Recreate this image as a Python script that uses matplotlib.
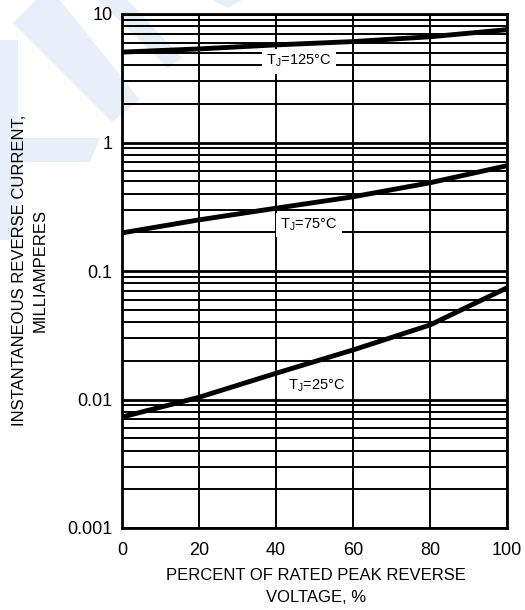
import matplotlib
matplotlib.use("Agg")
import matplotlib.pyplot as plt
from matplotlib.patches import Polygon

plt.rcParams['font.family'] = ['Liberation Sans', 'DejaVu Sans']
plt.rcParams['mathtext.default'] = 'regular'

# percent of rated peak reverse voltage
voltage_pct = [0, 20, 40, 60, 80, 100]
# reverse current, mA
current_125 = [5.05, 5.35, 5.75, 6.1, 6.65, 7.55]
current_75 = [0.198, 0.25, 0.308, 0.378, 0.486, 0.66]
current_25 = [0.0073, 0.0104, 0.0160, 0.0243, 0.038, 0.074]

curve_labels = ['$T_J$=125°C', '$T_J$=75°C', '$T_J$=25°C']
label_x = [46, 48.5, 50.5]
label_y = [4.3, 0.228, 0.0127]

x_ticks = [0, 20, 40, 60, 80, 100]
y_ticks = [0.001, 0.01, 0.1, 1, 10]
y_ticklabels = ['0.001', '0.01', '0.1', '1', '10']

fig = plt.figure(figsize=(5.25, 6.1), dpi=100)

# faint blue watermark behind everything (pixel coords, top-left origin)
wm_color = '#e9eff9'
W, H = 525, 610
wm_shapes = [
    [(13, 23), (36, 0), (60, 0), (140, 100), (112, 122)],
    [(98, 0), (128, 0), (182, 58), (168, 68)],
    [(0, 40), (18, 40), (18, 240), (0, 240)],
    [(0, 138), (100, 138), (90, 162), (0, 162)],
    [(212, 0), (242, 0), (228, 8)],
]
for shape in wm_shapes:
    pts = [(px / W, 1 - py / H) for px, py in shape]
    fig.patches.append(Polygon(pts, closed=True, transform=fig.transFigure,
                               facecolor=wm_color, edgecolor='none', zorder=-5))

ax = fig.add_axes([122 / W, 1 - 528 / H, 385 / W, 514 / H])
ax.set_zorder(2)
ax.patch.set_alpha(0)
ax.set_yscale('log')
ax.set_xlim(0, 100)
ax.set_ylim(0.001, 10)

# grid drawn by hand: decade lines, minor lines, vertical lines
for d in [0.001, 0.01, 0.1, 1, 10]:
    ax.axhline(d, color='black', lw=2.0, zorder=1)
for d in [0.001, 0.01, 0.1, 1]:
    for m in range(2, 10):
        ax.axhline(d * m, color='black', lw=1.4, zorder=1)
for xv in x_ticks:
    ax.axvline(xv, color='black', lw=1.4, zorder=1)

for cur in [current_125, current_75, current_25]:
    ax.plot(voltage_pct, cur, color='black', lw=3.5, solid_capstyle='butt', zorder=3)

for txt, lx, ly in zip(curve_labels, label_x, label_y):
    ax.text(lx, ly, txt, fontsize=10.5, ha='center', va='center', zorder=4,
            bbox=dict(facecolor='white', edgecolor='none', pad=3))

for s in ax.spines.values():
    s.set_linewidth(2)
ax.set_xticks(x_ticks)
ax.set_xticklabels([str(v) for v in x_ticks], fontsize=13)
ax.set_yticks(y_ticks)
ax.set_yticklabels(y_ticklabels, fontsize=13)
ax.minorticks_off()
ax.tick_params(axis='x', length=0, pad=10)
ax.tick_params(axis='y', length=0, pad=7)

fig.text(316 / W, 1 - 575 / H, 'PERCENT OF RATED PEAK REVERSE', fontsize=12,
         ha='center', va='center')
fig.text(316 / W, 1 - 597 / H, 'VOLTAGE, %', fontsize=12, ha='center', va='center')
fig.text(20 / W, 1 - 270 / H, 'INSTANTANEOUS REVERSE CURRENT,', fontsize=12,
         ha='center', va='center', rotation=90)
fig.text(40 / W, 1 - 270 / H, 'MILLIAMPERES', fontsize=12, ha='center', va='center',
         rotation=90)

fig.savefig('out.png', dpi=100)
